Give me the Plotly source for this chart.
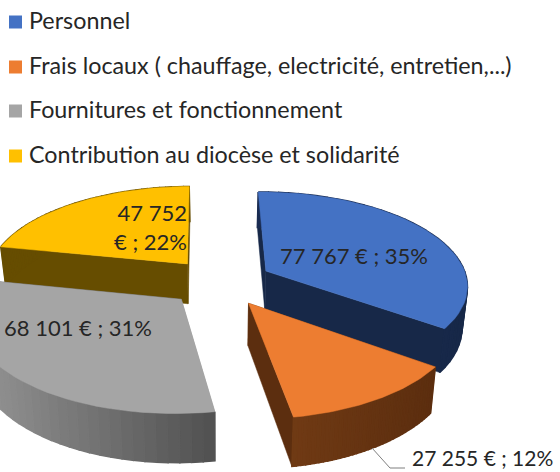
import numpy as np
import plotly.graph_objects as go

categories = ["Personnel", "Frais locaux ( chauffage, electricité, entretien,...)",
              "Fournitures et fonctionnement", "Contribution au diocèse et solidarité"]
values = [77767, 27255, 68101, 47752]
labels = ["77 767 € ; 35%", "27 255 € ; 12%", "68 101 € ; 31%", "47 752<br>€ ; 22%"]
colors = ["#4472C4", "#ED7D31", "#A5A5A5", "#FFC000"]
side_left = ["#1A2C52", "#703A14", "#969696", "#664D00"]
side_right = ["#172848", "#5C2E0F", "#525252", "#664D00"]

# projection parameters of the 3D view
CX, CY, RX, RY, K, DEPTH, EXPLODE, SHRINK = 220, 282, 202, 93, 0.14, 41, 0.26, 0.022
ROTATION = np.radians(-0.7)

fracs = np.array(values) / sum(values)
starts = np.concatenate([[0], np.cumsum(fracs)[:-1]]) * 2 * np.pi + ROTATION
ends = np.cumsum(fracs) * 2 * np.pi + ROTATION


def proj(u, v, low=False):
    u, v = np.asarray(u, float), np.asarray(v, float)
    w = 1 - K * v
    x = CX + RX * u / w
    y = CY + RY * v / w
    if low:
        x = x + (CX - x) * SHRINK
        y = y + DEPTH / w
    return x, y


def poly(x, y, color, width=0.5):
    return go.Scatter(x=list(x), y=list(y), mode="lines", fill="toself", fillcolor=color,
                      line=dict(color=color, width=width), hoverinfo="skip", showlegend=False)


def mix(a, b, t):
    ca = [int(a[i:i + 2], 16) for i in (1, 3, 5)]
    cb = [int(b[i:i + 2], 16) for i in (1, 3, 5)]
    return "rgb(%d,%d,%d)" % tuple(round(p + (q - p) * t) for p, q in zip(ca, cb))


fig = go.Figure()
for i in [3, 0, 2, 1]:  # far to near
    mid = (starts[i] + ends[i]) / 2
    ou, ov = EXPLODE * np.sin(mid), -EXPLODE * np.cos(mid)
    th = np.linspace(starts[i], ends[i], 40)
    u = ou + np.sin(th)
    v = ov - np.cos(th)
    # radial walls
    for t_end, col in [(starts[i], side_right[i] if i == 0 else side_left[i]), (ends[i], side_right[i])]:
        ue, ve = ou + np.sin(t_end), ov - np.cos(t_end)
        xa, ya = proj([ou, ue], [ov, ve])
        xb, yb = proj([ue, ou], [ve, ov], low=True)
        fig.add_trace(poly(np.r_[xa, xb, xa[0]], np.r_[ya, yb, ya[0]], col))
    # outer wall with horizontal shading
    xt, yt = proj(u, v)
    xl, yl = proj(u, v, low=True)
    span = xt.max() - xt.min()
    for j in range(len(th) - 1):
        t = (xt[j] - xt.min()) / span
        col = mix(side_left[i], side_right[i], t)
        fig.add_trace(poly([xt[j], xt[j + 1], xl[j + 1], xl[j], xt[j]],
                           [yt[j], yt[j + 1], yl[j + 1], yl[j], yt[j]], col, 1.5))
    # top face
    ax, ay = proj([ou], [ov])
    fig.add_trace(poly(np.r_[ax, xt, ax], np.r_[ay, yt, ay], colors[i]))

# leader line of the orange label
fig.add_trace(go.Scatter(x=[372, 390, 405], y=[448, 468, 468], mode="lines",
                         line=dict(color="#7F7F7F", width=1), hoverinfo="skip", showlegend=False))

# legend
leg_y = [22, 67, 111, 156]
text_y = [20, 65, 109, 154]
fig.add_trace(go.Scatter(x=[15.5] * 4, y=leg_y, mode="markers",
                         marker=dict(symbol="square", size=13, color=colors), hoverinfo="skip", showlegend=False))
for name, y in zip(categories, text_y):
    fig.add_annotation(x=27, y=y, text=name, showarrow=False, xanchor="left", yanchor="middle",
                       font=dict(family="Lato", size=23.3, color="#262626"))

label_pos = [(354, 255), (482, 457), (78, 327), (150, 227)]
label_size = [22, 21, 22, 22]
for text, (x, y), s in zip(labels, label_pos, label_size):
    fig.add_annotation(x=x, y=y, text=text, showarrow=False, xanchor="center", yanchor="middle",
                       align="right", font=dict(family="Lato", size=s, color="#262626"))

fig.update_layout(width=560, height=472, margin=dict(l=0, r=0, t=0, b=0),
                  paper_bgcolor="white", plot_bgcolor="white", showlegend=False,
                  xaxis=dict(range=[0, 560], visible=False, fixedrange=True),
                  yaxis=dict(range=[472, 0], visible=False, fixedrange=True))
fig.write_html("out.html", config=dict(displayModeBar=False),
               post_script="document.body.style.margin='0';document.documentElement.style.overflow='hidden';")
